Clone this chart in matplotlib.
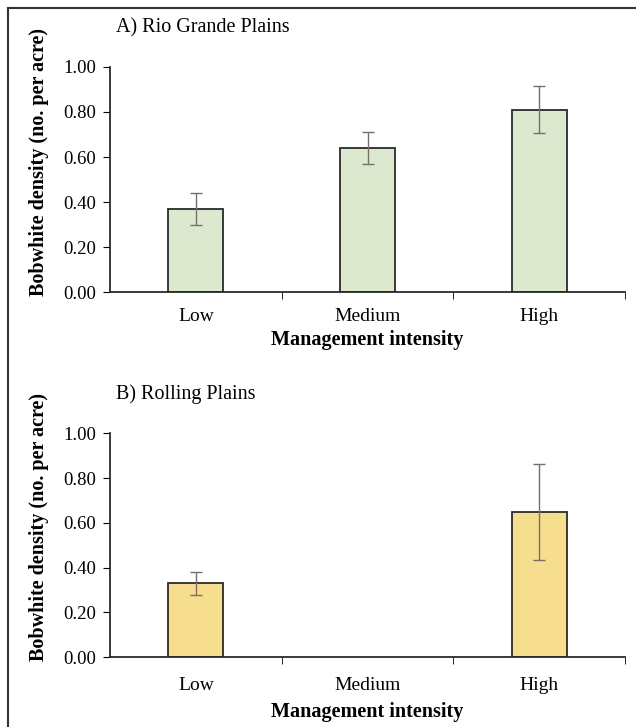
import matplotlib.pyplot as plt
import numpy as np
from matplotlib.lines import Line2D

categories = ["Low", "Medium", "High"]
rio_mean = [0.37, 0.64, 0.81]
rio_err = [0.07, 0.07, 0.105]
rolling_mean = [0.33, np.nan, 0.65]
rolling_err = [0.05, np.nan, 0.215]

plt.rcParams['font.family'] = ['Liberation Serif', 'DejaVu Serif']
plt.rcParams['font.size'] = 13.5

fig = plt.figure(figsize=(6.36, 7.27), dpi=100)
ax_a = fig.add_axes([0.173, 0.598, 0.810, 0.310])
ax_b = fig.add_axes([0.173, 0.096, 0.810, 0.308])

# frame: only top and left edges are visible in the scan
fig.lines.append(Line2D([0.0125, 1.0], [0.989, 0.989], transform=fig.transFigure,
                        color='#333333', linewidth=1.5))
fig.lines.append(Line2D([0.0125, 0.0125], [0.0, 0.989], transform=fig.transFigure,
                        color='#333333', linewidth=1.5))


def panel(ax, means, errs, color, title, xpad, labelpad):
    x = np.arange(len(categories))
    ax.bar(x, means, width=0.32, color=color, edgecolor='#2a2a2a', linewidth=1.3)
    ax.errorbar(x, means, yerr=errs, fmt='none', ecolor='#7a6e6a', elinewidth=1.0,
                capsize=4, capthick=1.0)
    ax.set_xlim(-0.5, 2.5)
    ax.set_ylim(0, 1.0)
    ax.set_yticks(np.arange(0, 1.01, 0.2))
    ax.set_yticklabels(["%.2f" % v for v in np.arange(0, 1.01, 0.2)])
    ax.set_xticks(x)
    ax.set_xticklabels(categories, fontsize=14)
    ax.set_xticks([0.5, 1.5, 2.5], minor=True)
    ax.tick_params(axis='x', which='major', length=0, pad=xpad)
    ax.tick_params(axis='x', which='minor', length=5, direction='out')
    ax.tick_params(axis='y', length=5, direction='out', pad=5)
    for s in ['top', 'right']:
        ax.spines[s].set_visible(False)
    for s in ['left', 'bottom']:
        ax.spines[s].set_linewidth(1.3)
        ax.spines[s].set_color('#2a2a2a')
    ax.set_ylabel("Bobwhite density (no. per acre)", fontweight='bold', fontsize=14.5)
    ax.yaxis.set_label_coords(-0.119, 0.58)
    ax.set_xlabel("Management intensity", fontweight='bold', fontsize=14.5,
                  labelpad=labelpad)
    ax.text(0.012, 1.175, title, transform=ax.transAxes, ha='left', va='center',
            fontsize=14.5)


panel(ax_a, rio_mean, rio_err, '#dde9cf', "A) Rio Grande Plains", 11, 4)
panel(ax_b, rolling_mean, rolling_err, '#f6de8e', "B) Rolling Plains", 14, 6)

fig.savefig("out.png", dpi=100)
